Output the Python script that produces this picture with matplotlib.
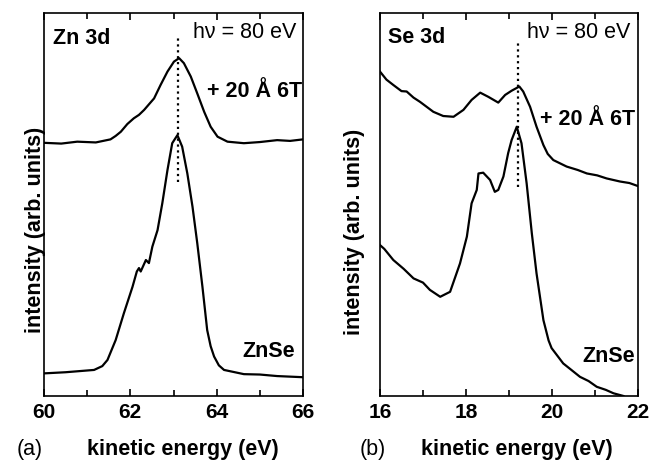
import numpy as np
import matplotlib
matplotlib.use('Agg')
from matplotlib import pyplot as plt
from matplotlib.ticker import MultipleLocator

plt.rcParams['font.family'] = ['Liberation Sans', 'DejaVu Sans']

# Zn 3d (панель a)
zn_e_top = [60.0, 60.4, 60.77, 61.2, 61.54, 61.66, 61.78, 61.93, 62.08, 62.2, 62.32, 62.45,
            62.55, 62.70, 62.86, 63.01, 63.13, 63.24, 63.40, 63.55, 63.71, 63.86, 64.02,
            64.25, 64.63, 65.0, 65.4, 65.7, 66.0]
zn_i_top = [66.1, 65.9, 66.4, 66.2, 67.0, 67.9, 69.0, 71.0, 72.5, 73.4, 74.7, 76.4,
            77.7, 81.2, 84.7, 87.3, 88.2, 86.9, 83.4, 79.0, 74.2, 70.3, 67.7,
            66.4, 66.0, 66.3, 66.8, 66.6, 67.0]
zn_e_bot = [60.0, 60.5, 61.16, 61.35, 61.47, 61.66, 61.85, 62.05, 62.15, 62.20, 62.24,
            62.36, 62.43, 62.51, 62.63, 62.74, 62.86, 62.97, 63.09, 63.20, 63.32, 63.44,
            63.55, 63.67, 63.78, 63.86, 63.94, 64.05, 64.17, 64.63, 65.0, 65.4, 66.0]
zn_i_bot = [5.9, 6.2, 6.8, 7.8, 9.4, 14.6, 21.6, 28.5, 32.5, 33.4, 32.5,
            35.5, 34.7, 39.0, 43.3, 50.3, 59.0, 66.0, 68.1, 65.1, 58.1, 49.4,
            39.9, 28.5, 17.2, 13.0, 10.3, 8.0, 6.8, 5.7, 5.6, 5.2, 4.9]

# Se 3d (панель b)
se_e_top = [16.0, 16.15, 16.31, 16.5, 16.62, 16.78, 16.93, 17.24, 17.47, 17.71, 17.94, 18.13,
            18.33, 18.52, 18.75, 18.91, 19.06, 19.24, 19.33, 19.49, 19.64, 19.80, 19.9,
            20.03, 20.34, 20.6, 20.81, 21.05, 21.27, 21.58, 21.8, 22.0]
se_i_top = [84.7, 82.6, 81.2, 79.6, 79.5, 77.9, 76.8, 74.2, 73.1, 72.9, 74.7, 77.3,
            79.2, 78.1, 76.6, 78.6, 79.7, 80.8, 79.5, 75.5, 70.3, 65.5, 63.2,
            61.6, 59.9, 59.0, 58.1, 57.6, 56.8, 56.0, 55.6, 54.8]
se_e_bot = [16.0, 16.1, 16.31, 16.55, 16.78, 17.0, 17.16, 17.40, 17.63, 17.86, 18.02,
            18.13, 18.25, 18.29, 18.40, 18.56, 18.67, 18.75, 18.87, 18.98, 19.06, 19.18,
            19.29, 19.41, 19.53, 19.64, 19.80, 19.92, 19.99, 20.26, 20.45, 20.65, 20.85,
            21.04, 21.25, 21.43, 21.66]
se_i_bot = [39.4, 38.4, 35.5, 33.2, 30.7, 29.6, 27.7, 25.9, 27.2, 34.6, 41.6,
            50.3, 53.8, 58.1, 58.3, 56.4, 53.3, 53.8, 57.3, 63.4, 66.8, 70.3,
            66.0, 55.5, 42.5, 32.0, 19.8, 14.5, 12.5, 8.5, 6.8, 5.0, 3.9,
            2.4, 1.6, 0.7, 0.0]

zn_peak = 63.1
se_peak = 19.2

fs = 15.5

fig = plt.figure(figsize=(6.5, 4.62), dpi=100)
ax1 = fig.add_axes([0.0677, 0.1429, 0.3985, 0.829])
ax2 = fig.add_axes([0.5846, 0.1429, 0.397, 0.829])

def style(ax, xmin, xmax):
    ax.set_xlim(xmin, xmax)
    ax.set_ylim(0, 100)
    ax.set_yticks([])
    ax.xaxis.set_major_locator(MultipleLocator(2))
    ax.xaxis.set_minor_locator(MultipleLocator(1))
    ax.tick_params(axis='x', which='both', direction='in', top=True, width=1.2)
    ax.tick_params(axis='x', which='major', length=5, pad=5, labelsize=15)
    ax.tick_params(axis='x', which='minor', length=4)
    for lab in ax.get_xticklabels():
        lab.set_fontweight('bold')
    for s in ax.spines.values():
        s.set_linewidth(1.2)

# панель a
ax1.plot(zn_e_top, zn_i_top, color='black', lw=1.6)
ax1.plot(zn_e_bot, zn_i_bot, color='black', lw=1.6)
ax1.plot([zn_peak, zn_peak], [55.9, 94.3], color='black', ls=':', lw=1.6)
style(ax1, 60, 66)
ax1.set_xlabel('kinetic energy (eV)', fontsize=fs, fontweight='bold', va='center')
ax1.xaxis.set_label_coords(0.537, -0.141)
ax1.set_ylabel('intensity (arb. units)', fontsize=fs, fontweight='bold', va='center')
ax1.yaxis.set_label_coords(-0.031, 0.433)
ax1.text(0.035, 0.933, 'Zn 3d', transform=ax1.transAxes, fontsize=fs, fontweight='bold', va='center')
ax1.text(0.973, 0.948, 'hν = 80 eV', transform=ax1.transAxes, fontsize=fs, ha='right', va='center')
ax1.text(0.998, 0.794, '+ 20 Å 6T', transform=ax1.transAxes, fontsize=fs, fontweight='bold', ha='right', va='center')
ax1.text(0.969, 0.115, 'ZnSe', transform=ax1.transAxes, fontsize=fs, fontweight='bold', ha='right', va='center')

# панель b
ax2.plot(se_e_top, se_i_top, color='black', lw=1.6)
ax2.plot(se_e_bot, se_i_bot, color='black', lw=1.6)
ax2.plot([se_peak, se_peak], [54.6, 93.0], color='black', ls=':', lw=1.6)
style(ax2, 16, 22)
ax2.set_xlabel('kinetic energy (eV)', fontsize=fs, fontweight='bold', va='center')
ax2.xaxis.set_label_coords(0.531, -0.141)
ax2.set_ylabel('intensity (arb. units)', fontsize=fs, fontweight='bold', va='center')
ax2.yaxis.set_label_coords(-0.097, 0.428)
ax2.text(0.031, 0.935, 'Se 3d', transform=ax2.transAxes, fontsize=fs, fontweight='bold', va='center')
ax2.text(0.969, 0.948, 'hν = 80 eV', transform=ax2.transAxes, fontsize=fs, ha='right', va='center')
ax2.text(0.988, 0.723, '+ 20 Å 6T', transform=ax2.transAxes, fontsize=fs, fontweight='bold', ha='right', va='center')
ax2.text(0.988, 0.102, 'ZnSe', transform=ax2.transAxes, fontsize=fs, fontweight='bold', ha='right', va='center')

fig.text(17 / 650, 1 - 450 / 462, '(a)', fontsize=fs, va='center')
fig.text(360 / 650, 1 - 450 / 462, '(b)', fontsize=fs, va='center')

fig.savefig('out.png', dpi=100)
